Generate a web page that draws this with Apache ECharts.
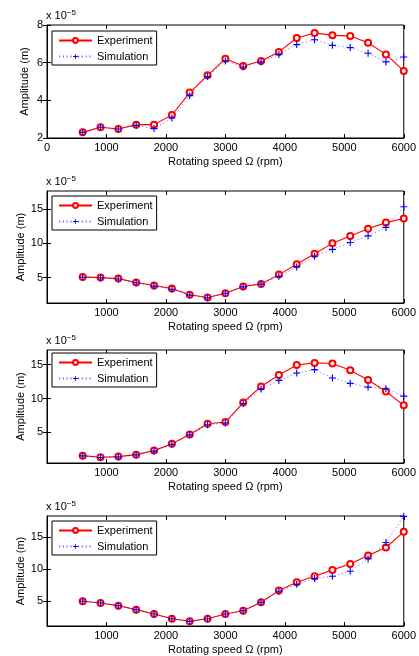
<!DOCTYPE html>
<html>
<head>
<meta charset="utf-8">
<script src="https://cdn.jsdelivr.net/npm/echarts@6/dist/echarts.min.js"></script>
<style>
html,body{margin:0;padding:0;background:#fff;}
#c{width:419px;height:656px;}
</style>
</head>
<body>
<div id="c"></div>
<script>
// ---- data (amplitudes in units of 1e-5 m) ----
const speeds = [600,900,1200,1500,1800,2100,2400,2700,3000,3300,3600,3900,4200,4500,4800,5100,5400,5700,6000];
const exp1 = [2.30,2.57,2.48,2.71,2.71,3.22,4.41,5.33,6.21,5.82,6.09,6.57,7.31,7.58,7.45,7.42,7.06,6.44,5.56];
const sim1 = [2.30,2.57,2.48,2.67,2.50,3.06,4.25,5.26,6.09,5.77,6.04,6.44,6.96,7.22,6.92,6.80,6.50,6.04,6.30];
const exp2 = [5.10,5.00,4.85,4.28,3.84,3.40,2.49,2.10,2.73,3.70,4.08,5.43,6.93,8.48,9.98,11.04,12.10,13.00,13.60];
const sim2 = [5.05,4.95,4.80,4.25,3.75,3.30,2.45,2.05,2.70,3.65,4.05,5.20,6.55,8.10,9.10,10.10,11.07,12.30,15.30];
const exp3 = [1.58,1.34,1.44,1.73,2.33,3.32,4.70,6.29,6.53,9.41,11.78,13.46,14.95,15.25,15.15,14.16,12.72,11.04,9.00];
const sim3 = [1.55,1.30,1.40,1.70,2.25,3.25,4.65,6.14,6.39,9.26,11.39,12.67,13.76,14.26,13.02,12.23,11.68,11.44,10.35];
const exp4 = [5.00,4.74,4.32,3.70,3.02,2.29,1.88,2.29,3.02,3.54,4.84,6.67,7.97,8.91,9.90,10.83,12.14,13.39,15.83];
const sim4 = [5.00,4.74,4.32,3.70,3.02,2.29,1.88,2.29,3.02,3.54,4.84,6.56,7.66,8.54,8.91,9.69,11.61,14.17,18.25];
const xTicks = [0,1000,2000,3000,4000,5000,6000];
const yTicks1 = [2,4,6,8];
const yTicks2 = [5,10,15];
const yTicks3 = [5,10,15];
const yTicks4 = [5,10,15];
const seriesNames = ['Experiment','Simulation'];
const xTitle = 'Rotating speed \u03a9 (rpm)';
const yTitle = 'Amplitude (m)';

// ---- layout ----
const FONT = '"Liberation Sans", Arial, Helvetica, sans-serif';
const panels = [
  {exp:exp1, sim:sim1, yt:yTicks1, ymin:2,   ymax:8,    top:25,  h:113, showZero:true,  legTop:31,  yGap:17},
  {exp:exp2, sim:sim2, yt:yTicks2, ymin:1.3, ymax:17.6, top:191, h:112, showZero:false, legTop:196, yGap:20.5},
  {exp:exp3, sim:sim3, yt:yTicks3, ymin:0.5, ymax:17.15,top:350, h:113, showZero:false, legTop:353, yGap:20.5},
  {exp:exp4, sim:sim4, yt:yTicks4, ymin:1.15,ymax:18.3, top:516, h:111, showZero:false, legTop:521, yGap:20.5}
];
const plusPath = 'path://M4.2,0 H5.8 V4.2 H10 V5.8 H5.8 V10 H4.2 V5.8 H0 V4.2 H4.2 Z';

const grid=[], xAxis=[], yAxis=[], series=[], legend=[], graphic=[];
panels.forEach((p,i)=>{
  grid.push({left:47, right:12, top:p.top, height:p.h, show:true, borderColor:'#000', borderWidth:1, backgroundColor:'#fff'});
  const lab = {color:'#000', fontFamily:FONT, fontSize:11};
  xAxis.push({type:'value', gridIndex:i, min:0, max:6000, interval:1000,
    name: xTitle, nameLocation:'middle', nameGap:18, nameMoveOverlap:false,
    nameTextStyle:{color:'#000', fontFamily:FONT, fontSize:11},
    axisLine:{show:true, lineStyle:{color:'#000'}}, axisTick:{show:true, inside:true, length:4, lineStyle:{color:'#000'}},
    axisLabel:Object.assign({margin:4, customValues:xTicks, formatter:(v)=> (v===0 && !p.showZero) ? '' : String(v)}, lab),
    splitLine:{show:false}});
  xAxis.push({type:'value', gridIndex:i, position:'top', min:0, max:6000, interval:1000,
    axisLine:{show:false}, axisTick:{show:true, inside:true, length:4, lineStyle:{color:'#000'}},
    axisLabel:{show:false}, splitLine:{show:false}});
  yAxis.push({type:'value', gridIndex:i, min:p.ymin, max:p.ymax,
    name: yTitle, nameLocation:'middle', nameGap:p.yGap, nameMoveOverlap:false,
    nameTextStyle:{color:'#000', fontFamily:FONT, fontSize:11},
    axisLine:{show:true, lineStyle:{color:'#000'}}, axisTick:{show:true, inside:true, length:4, customValues:p.yt, lineStyle:{color:'#000'}},
    axisLabel:Object.assign({margin:4, customValues:p.yt}, lab),
    splitLine:{show:false}});
  yAxis.push({type:'value', gridIndex:i, position:'right', min:p.ymin, max:p.ymax,
    axisLine:{show:false}, axisTick:{show:true, inside:true, length:4, customValues:p.yt, lineStyle:{color:'#000'}},
    axisLabel:{show:false, customValues:p.yt}, splitLine:{show:false}});
  series.push({name:seriesNames[0], type:'line', xAxisIndex:2*i, yAxisIndex:2*i,
    data: speeds.map((s,k)=>[s,p.exp[k]]), symbol:'emptyCircle', symbolSize:6,
    lineStyle:{color:'#ff0000', width:1.1}, itemStyle:{color:'#ff0000', borderColor:'#ff0000', borderWidth:0.9},
    animation:false, z:2});
  series.push({name:seriesNames[1], type:'line', xAxisIndex:2*i, yAxisIndex:2*i,
    data: speeds.map((s,k)=>[s,p.sim[k]]), symbol:plusPath, symbolSize:7,
    lineStyle:{color:'#0000ff', width:1, type:[1.2,2.6], opacity:0.55}, itemStyle:{color:'#0000ff'},
    animation:false, z:3});
  legend.push({orient:'vertical', left:52, top:p.legTop, data:seriesNames.slice(),
    itemWidth:33, itemHeight:6, itemGap:3, padding:[3,4,2,6],
    borderColor:'#000', borderWidth:1, backgroundColor:'#fff', borderRadius:0,
    textStyle:{color:'#000', fontFamily:FONT, fontSize:11, lineHeight:13},
    selectedMode:false});
  graphic.push({type:'text', left:46, top:p.top-16, z:10,
    style:{text:'x 10{s|\u22125}', fill:'#000', font:'11px '+FONT,
      rich:{s:{fontSize:8, fontFamily:FONT, verticalAlign:'top', padding:[0,0,6,0]}}}});
});

const chart = echarts.init(document.getElementById('c'), null, {renderer:'canvas'});
chart.setOption({animation:false, backgroundColor:'#fff', grid, xAxis, yAxis, series, legend, graphic});
</script>
</body>
</html>
